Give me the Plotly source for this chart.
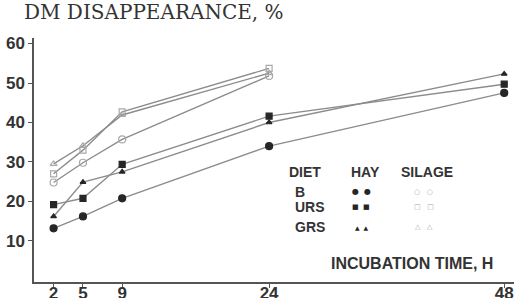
import plotly.graph_objects as go

times_hay = [2, 5, 9, 24, 48]
times_silage = [2, 5, 9, 24]

b_hay = [13.2, 16.2, 20.8, 34.0, 47.5]
urs_hay = [19.2, 20.8, 29.4, 41.6, 49.7]
grs_hay = [16.2, 24.9, 27.5, 40.0, 52.3]

b_silage = [24.8, 29.8, 35.7, 51.8]
urs_silage = [27.0, 33.0, 42.7, 53.7]
grs_silage = [29.5, 34.1, 41.9, 52.5]

x_ticks = [2, 5, 9, 24, 48]
y_ticks = [10, 20, 30, 40, 50, 60]

line_col = "#8c8c8c"
dark = "#262626"
light = "#a8a8a8"
txt = "#333333"

fig = go.Figure()

def add(x, y, sym, size, col):
    fig.add_trace(go.Scatter(
        x=x, y=y, mode="lines+markers",
        line=dict(color=line_col, width=1.4),
        marker=dict(symbol=sym, size=size, color=col,
                    line=dict(color=col, width=1.2)),
        showlegend=False, hoverinfo="skip"))

add(times_silage, b_silage, "circle-open", 7, light)
add(times_silage, urs_silage, "square-open", 6, light)
add(times_silage, grs_silage, "triangle-up-open", 6, light)
add(times_hay, b_hay, "circle", 7, dark)
add(times_hay, urs_hay, "square", 6, dark)
add(times_hay, grs_hay, "triangle-up", 5, dark)

tickfont = dict(family="Liberation Sans", size=17, color=txt, weight="bold")

fig.update_layout(
    width=514, height=298,
    margin=dict(l=34, r=0, t=38, b=16),
    paper_bgcolor="white", plot_bgcolor="white",
    title=dict(text="DM DISAPPEARANCE, %", xref="container", yref="container",
               x=24 / 514, xanchor="left", y=1 - 5 / 298, yanchor="top",
               font=dict(family="DejaVu Serif", size=20, color=txt)),
    xaxis=dict(range=[0, 49], tickvals=x_ticks, ticktext=[str(v) for v in x_ticks],
               showgrid=False, zeroline=False, showline=True, linecolor="#555555",
               linewidth=1.5, ticks="outside", ticklen=4, tickcolor="#555555",
               tickfont=tickfont, automargin=False, ticklabelstandoff=-9),
    yaxis=dict(range=[-0.4, 61.4], tickvals=y_ticks, ticktext=[str(v) for v in y_ticks],
               showgrid=False, zeroline=False, showline=True, linecolor="#555555",
               linewidth=1.5, ticks="outside", ticklen=4, tickcolor="#555555",
               tickfont=tickfont, automargin=False),
)

lf = dict(family="Liberation Sans", size=14, color=txt, weight="bold")
anns = [
    dict(text="DIET", x=25.8, y=27.5, xanchor="left", font=lf),
    dict(text="HAY", x=33.8, y=27.5, xanchor="center", font=lf),
    dict(text="SILAGE", x=40.1, y=27.5, xanchor="center", font=lf),
    dict(text="B", x=26.4, y=22.4, xanchor="left", font=lf),
    dict(text="URS", x=26.4, y=18.6, xanchor="left", font=lf),
    dict(text="GRS", x=26.4, y=13.5, xanchor="left", font=lf),
    dict(text="●  ●", x=33.4, y=22.4, xanchor="center",
         font=dict(family="DejaVu Sans", size=8, color=dark)),
    dict(text="■  ■", x=33.4, y=18.6, xanchor="center",
         font=dict(family="DejaVu Sans", size=7, color=dark)),
    dict(text="▲  ▲", x=33.4, y=13.5, xanchor="center",
         font=dict(family="DejaVu Sans", size=6, color=dark)),
    dict(text="○   ○", x=39.8, y=22.4, xanchor="center",
         font=dict(family="DejaVu Sans", size=7, color=light)),
    dict(text="□   □", x=39.8, y=18.6, xanchor="center",
         font=dict(family="DejaVu Sans", size=7, color=light)),
    dict(text="△   △", x=39.8, y=13.5, xanchor="center",
         font=dict(family="DejaVu Sans", size=7, color=light)),
    dict(text="INCUBATION TIME, H", x=38.6, y=4.4, xanchor="center",
         font=dict(family="Liberation Sans", size=16, color=txt, weight="bold")),
]
for a in anns:
    a["xref"] = "x"
    a["yref"] = "y"
    a["showarrow"] = False
    fig.add_annotation(**a)

fig.write_html("out.html", config={"displayModeBar": False},
               post_script="document.body.style.margin='0';document.body.style.padding='0';")
